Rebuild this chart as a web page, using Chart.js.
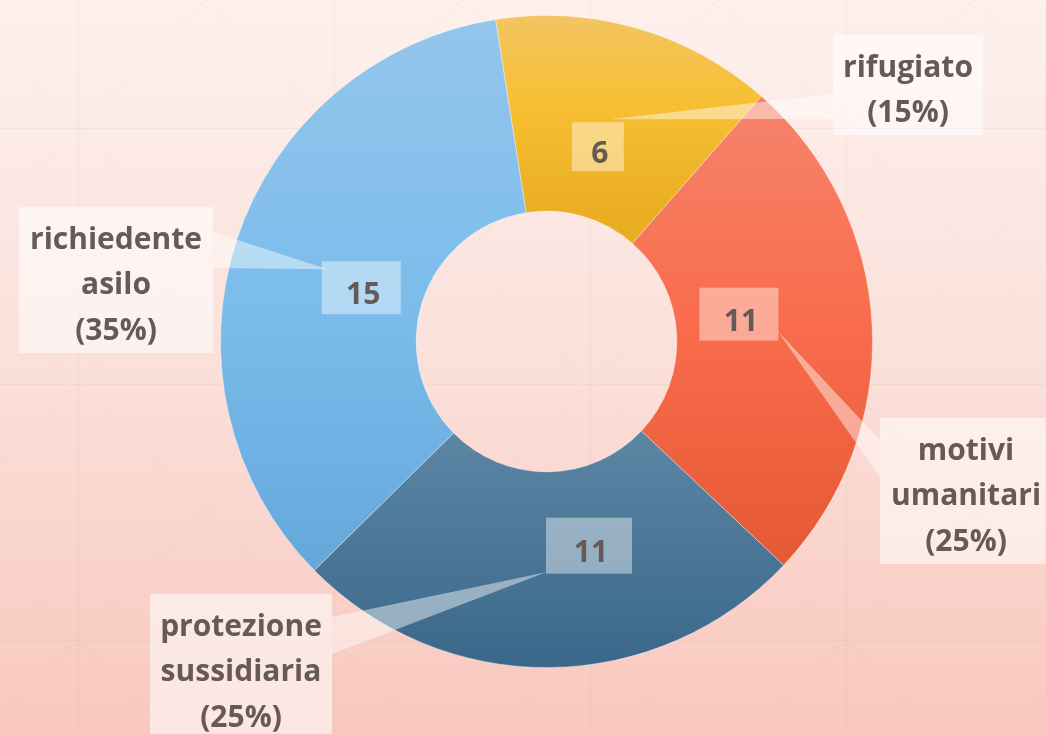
<!DOCTYPE html>
<html>
<head>
<meta charset="utf-8">
<title>Status giuridico</title>
<script src="https://cdn.jsdelivr.net/npm/chart.js@4.4.1/dist/chart.umd.min.js"></script>
<style>
    html, body { margin: 0; padding: 0; }
    #chartWrap { position: relative; width: 1046px; height: 734px; }
</style>
</head>
<body>
<div id="chartWrap"><canvas id="statusChart"></canvas></div>
<script>
// Chart data
const categories = ['rifugiato', 'motivi umanitari', 'protezione sussidiaria', 'richiedente asilo'];
const counts = [6, 11, 11, 15];
const percentLabels = ['15%', '25%', '25%', '35%'];

// Vertical gradient stops per slice (0 = top of ring, 1 = bottom)
const sliceStops = [
    [[0, '#f3c462'], [0.14, '#f7bf32'], [0.3, '#eaae22'], [1, '#e0a010']],
    [[0, '#f59078'], [0.12, '#f5846c'], [0.45, '#f96e4e'], [0.85, '#e55834'], [1, '#e05030']],
    [[0, '#7098b4'], [0.6, '#6089a6'], [1, '#3a678a']],
    [[0, '#94c6ec'], [0.45, '#7bbceb'], [0.85, '#64a8db'], [1, '#5ea2d6']]
];

// Label layout: value box shift from slice centre, value box size, callout box and wedge
const valueShift = [[-12, 24.5], [-35.5, -16.5], [40, -24], [31.5, 17.5]];
const valueBoxSize = [[52, 49], [79, 53], [86, 56], [79, 53]];
const calloutLayout = [
    { box: [833, 35, 150, 100], side: 'left', tip: [12, -27.5], base: [59, 84] },
    { box: [880, 418, 172, 146], side: 'left', tip: [38.5, 16.5], base: [22, 59] },
    { box: [150, 594, 182, 150], side: 'right', tip: [-43, 26.5], base: [23, 60] },
    { box: [19, 207, 194, 146], side: 'right', tip: [-33.5, -18.5], base: [25, 61] }
];

const TEXT_COLOR = '#665a56';
const LABEL_FONT = 'bold 30px "Open Sans"';

function sliceGradient(context) {
    const chart = context.chart;
    const area = chart.chartArea;
    if (!area) return null;
    const g = chart.ctx.createLinearGradient(0, area.top, 0, area.bottom);
    sliceStops[context.dataIndex].forEach(s => g.addColorStop(s[0], s[1]));
    return g;
}

// Pink background with a faint diamond grid
const backgroundPlugin = {
    id: 'pinkBackground',
    beforeDraw(chart) {
        const { ctx, width, height } = chart;
        ctx.save();
        const bg = ctx.createLinearGradient(0, 0, 0, height);
        bg.addColorStop(0, '#fdf1ed');
        bg.addColorStop(0.5, '#fbe0da');
        bg.addColorStop(1, '#f8c8bd');
        ctx.fillStyle = bg;
        ctx.fillRect(0, 0, width, height);

        ctx.strokeStyle = 'rgba(170, 140, 135, 0.09)';
        ctx.lineWidth = 1;
        const step = 256, ox = 78, oy = 128;
        ctx.beginPath();
        for (let x = ox; x < width; x += step) {
            ctx.moveTo(x + 0.5, 0); ctx.lineTo(x + 0.5, height);
        }
        for (let y = oy; y < height; y += step) {
            ctx.moveTo(0, y + 0.5); ctx.lineTo(width, y + 0.5);
        }
        for (let c = (ox - oy) - 4 * step; c < width + step; c += step) {
            ctx.moveTo(c, 0); ctx.lineTo(c + height, height);
        }
        for (let c = (ox + oy) - step; c < width + height + step; c += step) {
            ctx.moveTo(c, 0); ctx.lineTo(c - height, height);
        }
        ctx.stroke();
        ctx.restore();
    }
};

// Value boxes, wedge callouts and category labels
const calloutPlugin = {
    id: 'callouts',
    afterDatasetsDraw(chart) {
        const ctx = chart.ctx;
        const arcs = chart.getDatasetMeta(0).data;
        ctx.save();
        ctx.font = LABEL_FONT;
        ctx.textAlign = 'center';
        ctx.textBaseline = 'middle';

        arcs.forEach((arc, i) => {
            const p = arc.getCenterPoint();
            const cx = p.x + valueShift[i][0];
            const cy = p.y + valueShift[i][1];
            const layout = calloutLayout[i];
            const [bx, by, bw, bh] = layout.box;

            // wedge from value box to category box
            const edgeX = layout.side === 'left' ? bx : bx + bw;
            ctx.fillStyle = 'rgba(255, 255, 255, 0.45)';
            ctx.beginPath();
            ctx.moveTo(cx + layout.tip[0], cy + layout.tip[1]);
            ctx.lineTo(edgeX, by + layout.base[0]);
            ctx.lineTo(edgeX, by + layout.base[1]);
            ctx.closePath();
            ctx.fill();

            // value box
            const [vw, vh] = valueBoxSize[i];
            ctx.fillStyle = 'rgba(255, 255, 255, 0.42)';
            ctx.fillRect(cx - vw / 2, cy - vh / 2, vw, vh);
            ctx.fillStyle = TEXT_COLOR;
            ctx.fillText(String(counts[i]), cx + 2, cy + 8);

            // category box
            ctx.fillStyle = 'rgba(255, 255, 255, 0.55)';
            ctx.fillRect(bx, by, bw, bh);
            const lines = categories[i].split(' ').concat(['(' + percentLabels[i] + ')']);
            ctx.fillStyle = TEXT_COLOR;
            lines.forEach((line, k) => {
                ctx.fillText(line, bx + bw / 2, by + 33 + k * 45.5);
            });
        });
        ctx.restore();
    }
};

function initializeStatusChart() {
    const canvas = document.getElementById('statusChart');
    new Chart(canvas, {
        type: 'doughnut',
        data: {
            labels: categories,
            datasets: [{
                data: counts,
                backgroundColor: sliceGradient,
                borderColor: 'rgba(255, 255, 255, 0.35)',
                borderWidth: 1
            }]
        },
        options: {
            responsive: true,
            maintainAspectRatio: false,
            animation: false,
            rotation: -9,
            cutout: '40%',
            layout: { padding: { top: 15, bottom: 66, left: 220, right: 173 } },
            plugins: {
                legend: { display: false },
                tooltip: { enabled: false }
            }
        },
        plugins: [backgroundPlugin, calloutPlugin]
    });
}

document.addEventListener('DOMContentLoaded', initializeStatusChart);
</script>
</body>
</html>
